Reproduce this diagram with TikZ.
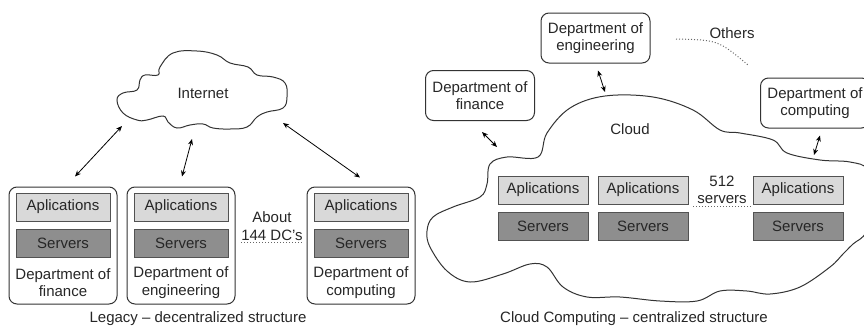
\documentclass[tikz,border=0pt]{standalone}
\usepackage{fontspec}
\setmainfont{Liberation Sans}
\usetikzlibrary{arrows.meta,positioning}
\definecolor{gclair}{HTML}{D9D9D9}
\definecolor{gfonce}{HTML}{8E8E8E}
\definecolor{trait}{HTML}{333333}
\begin{document}
\begin{tikzpicture}[
    x=1pt, y=-1pt,  % une unité = un pixel, y vers le bas
    every node/.style={font=\fontsize{15}{17.5}\selectfont, text=black!85, align=center},
    dept/.style={draw=trait, line width=1pt, rounded corners=8pt,
        minimum width=108pt, minimum height=117pt, inner sep=0pt},
    deptc/.style={draw=trait, line width=1pt, rounded corners=8pt,
        minimum width=109pt, minimum height=50pt, inner sep=0pt},
    appli/.style={draw=trait!85, fill=gclair, line width=0.8pt,
        minimum width=94pt, minimum height=28pt, inner sep=0pt},
    serv/.style={appli, fill=gfonce},
    fleche/.style={{Stealth[length=6pt,width=5pt]}-{Stealth[length=6pt,width=5pt]}, line width=0.8pt},
    nuage/.style={draw=trait, line width=1pt},
    pointille/.style={dotted, line width=1pt, draw=black!60}
]
\useasboundingbox (0,0) rectangle (864,327);

% Nuage Internet
\draw[nuage] plot[smooth cycle, tension=0.7] coordinates {
    (117,100) (123,93) (137,90) (140,80) (145,75) (158,75) (160,67) (173,53)
    (197,51) (217,55) (230,63) (248,67) (257,75) (273,77) (285,83) (287,97)
    (283,108) (267,112) (257,117) (247,127) (230,129) (213,128) (203,124)
    (190,125) (177,128) (168,122) (163,116) (147,120) (137,120) (123,113)};
\node (inet) at (203,93) {Internet};
\coordinate (i1) at (122,126);
\coordinate (i2) at (192,139);
\coordinate (i3) at (283,123);

% Départements (structure décentralisée)
\node[dept] (dfin) at (63,245.5) {};
\node[appli] (afin) at (63,207) {Aplications};
\node[serv] (sfin) at (63,243.5) {Servers};
\node (nfin) at (63,282.5) {Department of\\finance};

\node[dept] (deng) at (181,245.5) {};
\node[appli] (aeng) at (181,207) {Aplications};
\node[serv] (seng) at (181,243.5) {Servers};
\node (neng) at (181,282.5) {Department of\\engineering};

\node[dept] (dcom) at (361,245.5) {};
\node[appli] (acom) at (361,207) {Aplications};
\node[serv] (scom) at (361,243.5) {Servers};
\node (ncom) at (361,282.5) {Department of\\computing};

\node[inner xsep=0pt, inner ysep=2pt] (about) at (272,226) {About\\144 DC's};
\draw[pointille] (about.south west) -- (about.south east);

\draw[fleche] ([xshift=12pt,yshift=10pt]dfin.north) -- (i1);
\draw[fleche] ([xshift=1pt,yshift=10pt]deng.north) -- (i2);
\draw[fleche] ([xshift=-1pt,yshift=9pt]dcom.north) -- (i3);

\node (leg) at (198,319) {Legacy -- decentralized structure};

% Nuage (structure centralisée)
\draw[nuage] plot[smooth cycle, tension=0.6] coordinates {
    (490,164) (507,157) (538,157) (547,133) (570,108) (605,96) (653,97)
    (693,110) (720,130) (740,133) (773,140) (787,153) (820,160) (850,162)
    (868,170) (872,200) (866,232) (853,244) (843,254) (830,267) (800,287)
    (770,294) (747,291) (720,291) (697,301) (660,301) (620,297) (587,297)
    (563,287) (547,267) (530,264) (503,274) (470,282) (447,271) (430,247)
    (427,231) (433,217) (453,207) (480,197) (487,184)};
\node (cloud) at (630,129) {Cloud};
\coordinate (c1) at (497,147);
\coordinate (c2) at (605,92);
\coordinate (c3) at (814,155);

\node[appli, minimum width=90pt] (a1) at (543,190) {Aplications};
\node[serv, minimum width=90pt] (s1) at (543,226) {Servers};
\node[appli, minimum width=90pt] (a2) at (643,190) {Aplications};
\node[serv, minimum width=90pt] (s2) at (643,226) {Servers};
\node[appli, minimum width=90pt] (a3) at (798,190) {Aplications};
\node[serv, minimum width=90pt] (s3) at (798,226) {Servers};

\node[inner xsep=4pt, inner ysep=2pt] (nserv) at (722,190) {512\\servers};
\draw[pointille] (nserv.south west) -- (nserv.south east);

% Départements autour du nuage
\node[deptc] (cfin) at (480,95.5) {Department of\\finance};
\node[deptc] (ceng) at (595.5,38) {Department of\\engineering};
\node[deptc] (ccom) at (815,103) {Department of\\computing};

\draw[fleche] ([xshift=2pt,yshift=-11pt]cfin.south) -- (c1);
\draw[fleche] ([xshift=2.5pt,yshift=-7pt]ceng.south) -- (c2);
\draw[fleche] ([xshift=5pt,yshift=-7pt]ccom.south) -- (c3);

\node (autres) at (732,33) {Others};
\coordinate (o1) at (676,39);
\coordinate (o2) at (748,65);
\draw[pointille] (o1) .. controls (718,40) .. (o2);

\node (lcc) at (634,319) {Cloud Computing -- centralized structure};
\end{tikzpicture}
\end{document}
